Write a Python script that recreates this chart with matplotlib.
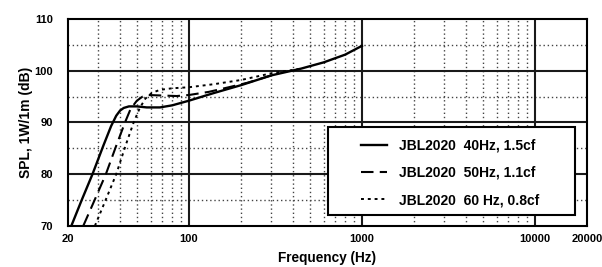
import matplotlib.pyplot as plt
from matplotlib.ticker import FixedLocator, NullFormatter
from matplotlib.patches import Rectangle
from matplotlib.lines import Line2D

plt.rcParams['font.family'] = ['Liberation Sans', 'DejaVu Sans']
plt.rcParams['font.weight'] = 'bold'

# frequency (Hz) / SPL (dB)
f_40 = [20.9, 24, 27.7, 32, 35.5, 38, 40, 42, 45, 50, 57, 68, 80, 100, 140, 200, 300, 445, 600, 800, 1000]
spl_40 = [70, 75, 80, 85.5, 89.3, 91.3, 92.3, 92.8, 93.1, 93.1, 92.9, 92.9, 93.3, 94.2, 95.7, 97.2, 99.1, 100.4, 101.6, 103.1, 104.8]

f_50 = [24.5, 28.5, 33.1, 38, 42.7, 46, 50, 54, 58, 70, 85, 100, 130, 170, 220, 300]
spl_50 = [70, 75, 80, 85.5, 90, 92.6, 94.2, 95, 95.3, 95.2, 95.1, 95.3, 95.9, 96.8, 97.7, 99.1]

f_60 = [28.6, 33, 38, 43, 47.9, 52, 56, 61, 68, 80, 100, 140, 200, 300, 445]
spl_60 = [70, 75, 80, 85.5, 90, 92.8, 94.6, 95.7, 96.3, 96.6, 96.8, 97.4, 98.2, 99.5, 100.4]

labels = ["JBL2020  40Hz, 1.5cf", "JBL2020  50Hz, 1.1cf", "JBL2020  60 Hz, 0.8cf"]

x_ticks = [20, 100, 1000, 10000, 20000]
y_ticks = [70, 80, 90, 100, 110]

fig = plt.figure(figsize=(6.02, 2.67), dpi=100)
ax = fig.add_axes([0.113, 0.154, 0.862, 0.775])

ax.set_xscale('log')
ax.set_xlim(20, 20000)
ax.set_ylim(70, 110)

# grid: solid at decades / 10 dB, dotted in between
minor_x = [m * d for d in (10, 100, 1000) for m in range(2, 10)]
minor_x = [v for v in minor_x if 20 < v < 20000 and v not in (100, 1000, 10000)]
for v in minor_x:
  ax.axvline(v, color='#444444', lw=1.0, ls=(0, (1, 2)), zorder=1)
for v in (75, 85, 95, 105):
  ax.axhline(v, color='#444444', lw=1.0, ls=(0, (1, 2)), zorder=1)
for v in (100, 1000, 10000):
  ax.axvline(v, color='#1a1a1a', lw=1.5, zorder=1)
for v in (80, 90, 100):
  ax.axhline(v, color='#1a1a1a', lw=1.5, zorder=1)

styles = ['-', (0, (6, 3)), (0, (1.5, 2))]
widths = [1.7, 1.5, 1.4]
ax.plot(f_40, spl_40, color='black', lw=widths[0], ls=styles[0], zorder=3)
ax.plot(f_50, spl_50, color='black', lw=widths[1], ls=styles[1], zorder=3)
ax.plot(f_60, spl_60, color='black', lw=widths[2], ls=styles[2], zorder=3)

ax.xaxis.set_major_locator(FixedLocator(x_ticks))
ax.xaxis.set_minor_locator(FixedLocator([]))
ax.xaxis.set_minor_formatter(NullFormatter())
ax.set_xticks(x_ticks)
ax.set_xticklabels([str(v) for v in x_ticks], fontsize=8, fontweight='bold')
ax.set_yticks(y_ticks)
ax.set_yticklabels([str(v) for v in y_ticks], fontsize=8, fontweight='bold')
ax.tick_params(axis='x', length=0, pad=6)
ax.tick_params(axis='y', length=0, pad=11)

for s in ax.spines.values():
  s.set_linewidth(1.5)
  s.set_color('black')

ax.set_xlabel("Frequency (Hz)", fontsize=9.8, fontweight='bold', labelpad=5)
ax.set_ylabel("SPL, 1W/1m (dB)", fontsize=10, fontweight='bold', labelpad=1)

# legend box drawn separately so the entries can sit inset like the original
box = Rectangle((0.501, 0.053), 0.476, 0.425, transform=ax.transAxes,
                facecolor='white', edgecolor='black', lw=1.5, zorder=4)
ax.add_patch(box)
handles = [Line2D([], [], color='black', lw=w, ls=s) for w, s in zip(widths, styles)]
leg = ax.legend(handles, labels, loc='center left', bbox_to_anchor=(0.5645, 0.256),
                fontsize=10, frameon=False, labelspacing=0.95, handlelength=1.9,
                handletextpad=0.85, borderpad=0, borderaxespad=0)
leg.set_zorder(5)

plt.savefig("out.png", dpi=100)
